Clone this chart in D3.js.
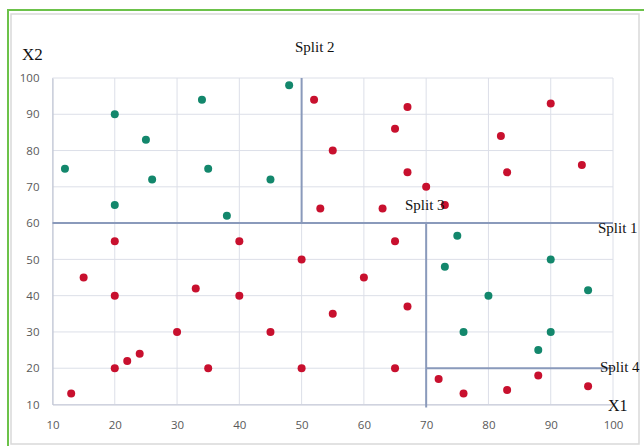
<!DOCTYPE html>
<html><head><meta charset="utf-8">
<script src="https://cdn.jsdelivr.net/npm/d3@7/dist/d3.min.js"></script>
<style>body{margin:0;background:#fff;}svg{display:block;}</style>
</head><body><svg id="c" width="644" height="446"></svg>
<script>
const xTicks = [10,20,30,40,50,60,70,80,90,100];
const yTicks = [10,20,30,40,50,60,70,80,90,100];
const greenX = [12,20,25,26,34,35,45,48,20,38,75,73,90,80,96,76,90,88];
const greenY = [75,90,83,72,94,75,72,98,65,62,56.5,48,50,40,41.5,30,30,25];
const redX = [52,53,55,67,65,67,70,63,73,82,83,90,95,20,40,15,50,33,20,40,30,45,24,22,20,35,50,13,55,65,60,67,65,72,76,83,88,96];
const redY = [94,64,80,92,86,74,70,64,65,84,74,93,76,55,55,45,50,42,40,40,30,30,24,22,20,20,20,13,35,55,45,37,20,17,13,14,18,15];
const splits = [
  {name:"Split 1", x1:10, y1:60, x2:100, y2:60},
  {name:"Split 2", x1:50, y1:60, x2:50, y2:100},
  {name:"Split 3", x1:70, y1:60, x2:70, y2:10},
  {name:"Split 4", x1:70, y1:20, x2:100, y2:20}
];
const splitLabels = [
  {text:"Split 2", x:295, y:52, size:15},
  {text:"Split 3", x:405, y:210, size:15},
  {text:"Split 1", x:598, y:233, size:15},
  {text:"Split 4", x:600, y:372, size:15},
  {text:"X1", x:608, y:411, size:16},
  {text:"X2", x:22, y:60, size:17}
];

const svg = d3.select("#c");
svg.append("rect").attr("x",11).attr("y",14).attr("width",628).attr("height",430)
  .attr("fill","#fff").attr("stroke","#d9d9d9").attr("stroke-width",1.5);
svg.append("rect").attr("x",8).attr("y",10).attr("width",660).attr("height",460)
  .attr("fill","none").attr("stroke","#6cc24a").attr("stroke-width",2);

const x = d3.scaleLinear().domain([10,100]).range([52.5,613]);
const y = d3.scaleLinear().domain([10,100]).range([404.5,78]);

const g = svg.append("g");
g.selectAll(".vg").data(xTicks).join("line")
  .attr("x1",d=>x(d)).attr("x2",d=>x(d)).attr("y1",y(10)).attr("y2",y(100))
  .attr("stroke","#dcdfe8").attr("stroke-width",1);
g.selectAll(".hg").data(yTicks).join("line")
  .attr("y1",d=>y(d)).attr("y2",d=>y(d)).attr("x1",x(10)).attr("x2",x(100))
  .attr("stroke","#dcdfe8").attr("stroke-width",1);

const xa = svg.append("g").attr("transform",`translate(0,${y(10)})`)
  .call(d3.axisBottom(x).tickValues(xTicks).tickSize(0).tickPadding(16));
const ya = svg.append("g").attr("transform",`translate(${x(10)},0)`)
  .call(d3.axisLeft(y).tickValues(yTicks).tickSize(0).tickPadding(13));
[xa,ya].forEach(a=>{
  a.select(".domain").attr("stroke","#c3c8d6").attr("stroke-width",1.2);
  a.selectAll("text").attr("fill","#595959").attr("font-family","'Open Sans', sans-serif").attr("font-size",11.5);
});

svg.selectAll(".split").data(splits).join("line")
  .attr("x1",d=>x(d.x1)).attr("x2",d=>x(d.x2)).attr("y1",d=>y(d.y1)).attr("y2",d=>y(d.y2)+(d.y2===10?3:0))
  .attr("stroke","#8a9abb").attr("stroke-width",2);

svg.selectAll(".g").data(greenX.map((v,i)=>[v,greenY[i]])).join("circle")
  .attr("cx",d=>x(d[0])).attr("cy",d=>y(d[1])).attr("r",4).attr("fill","#13876c");
svg.selectAll(".r").data(redX.map((v,i)=>[v,redY[i]])).join("circle")
  .attr("cx",d=>x(d[0])).attr("cy",d=>y(d[1])).attr("r",4).attr("fill","#c8102e");

svg.selectAll(".lab").data(splitLabels).join("text")
  .attr("x",d=>d.x).attr("y",d=>d.y).text(d=>d.text)
  .attr("font-family","'Liberation Serif', 'Times New Roman', serif")
  .attr("font-size",d=>d.size).attr("fill","#111");
</script></body></html>
